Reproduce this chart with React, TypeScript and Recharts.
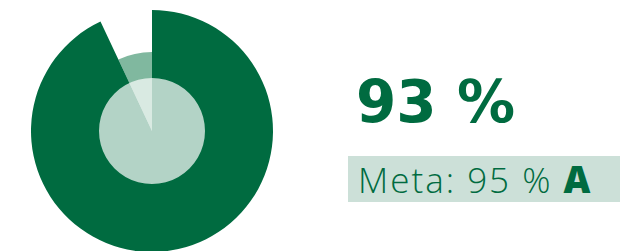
import { PieChart, Pie, Cell } from 'recharts';

// valores del indicador
const actual = 93;
const meta = 95;
const grade = 'A';

const resultSlices = [
  { name: 'Logrado', value: actual },
  { name: 'Faltante', value: 100 - actual },
];
const centerDisc = [{ name: 'Centro', value: 100 }];

const DARK = '#006b40';
const MEDIUM = '#80b89f';

export default function App() {
  return (
    <div
      style={{
        position: 'fixed',
        left: 0,
        top: 0,
        width: 620,
        height: 251,
        background: '#ffffff',
        overflow: 'hidden',
      }}
    >
      <PieChart width={620} height={251} margin={{ top: 0, right: 0, bottom: 0, left: 0 }}>
        {/* fondo del faltante */}
        <Pie
          data={resultSlices}
          dataKey="value"
          cx={152}
          cy={131}
          innerRadius={0}
          outerRadius={79}
          startAngle={90}
          endAngle={-270}
          stroke="none"
          isAnimationActive={false}
        >
          <Cell fill="none" />
          <Cell fill={MEDIUM} />
        </Pie>
        <Pie
          data={resultSlices}
          dataKey="value"
          cx={152}
          cy={131}
          innerRadius={0}
          outerRadius={121}
          startAngle={90}
          endAngle={-270}
          stroke="none"
          isAnimationActive={false}
        >
          <Cell fill={DARK} />
          <Cell fill="none" />
        </Pie>
        <Pie
          data={centerDisc}
          dataKey="value"
          cx={152}
          cy={131}
          innerRadius={0}
          outerRadius={53}
          stroke="none"
          fill="#ffffff"
          fillOpacity={0.7}
          isAnimationActive={false}
        />
      </PieChart>

      <div
        style={{
          position: 'absolute',
          left: 356,
          top: 62,
          fontFamily: '"DejaVu Sans", sans-serif',
          fontWeight: 700,
          fontSize: 58,
          lineHeight: '80px',
          color: DARK,
          whiteSpace: 'nowrap',
        }}
      >
        {actual} %
      </div>

      <div
        style={{
          position: 'absolute',
          left: 348,
          top: 156,
          width: 272,
          height: 46,
          background: '#cce0d8',
        }}
      />
      <div
        style={{
          position: 'absolute',
          left: 358,
          top: 156,
          height: 46,
          lineHeight: '46px',
          fontFamily: '"Open Sans", sans-serif',
          fontWeight: 300,
          fontSize: 35,
          letterSpacing: 2,
          color: DARK,
          whiteSpace: 'nowrap',
        }}
      >
        Meta: {meta} % <span style={{ fontWeight: 800, fontSize: 37 }}>{grade}</span>
      </div>
    </div>
  );
}
